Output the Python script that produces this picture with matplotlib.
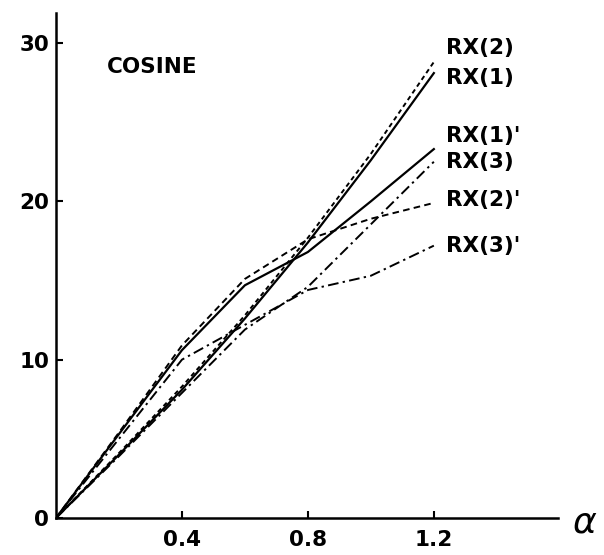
import numpy as np
import matplotlib
matplotlib.use("Agg")
import matplotlib.pyplot as plt

alpha = [0.0, 0.2, 0.4, 0.6, 0.8, 1.0, 1.2]

rx1 = [0.0, 4.0, 8.1, 12.6, 17.4, 22.6, 28.1]
rx2 = [0.0, 4.1, 8.3, 12.8, 17.7, 23.0, 28.8]
rx3 = [0.0, 3.9, 7.9, 11.9, 14.6, 18.55, 22.5]
rx1p = [0.0, 5.3, 10.6, 14.7, 16.8, 20.0, 23.3]
rx2p = [0.0, 5.4, 10.9, 15.1, 17.6, 18.9, 19.9]
rx3p = [0.0, 5.0, 10.0, 12.2, 14.4, 15.3, 17.2]

series_names = ["RX(2)", "RX(1)", "RX(1)'", "RX(3)", "RX(2)'", "RX(3)'"]
label_y = [29.7, 27.8, 24.1, 22.5, 20.1, 17.2]

x_ticks = [0.4, 0.8, 1.2]
x_tick_labels = ["0.4", "0.8", "1.2"]
y_ticks = [0, 10, 20, 30]

FONT = "DejaVu Sans"

fig = plt.figure(figsize=(6.04, 5.55), dpi=100)
ax = fig.add_axes([0.0927, 0.0667, 0.831, 0.91])

# line styles: solid for RX(1), short dashes for RX(2), dash-dot for RX(3)
short_dash = (0, (2.4, 1.8))
long_dash = (0, (3.4, 2.2))
dash_dot = (0, (5.5, 2.2, 1.2, 2.2))

ax.plot(alpha, rx2, color="black", lw=1.4, linestyle=short_dash)
ax.plot(alpha, rx1, color="black", lw=1.6, linestyle="-")
ax.plot(alpha, rx1p, color="black", lw=1.6, linestyle="-")
ax.plot(alpha, rx3, color="black", lw=1.4, linestyle=dash_dot)
ax.plot(alpha, rx2p, color="black", lw=1.4, linestyle=long_dash)
ax.plot(alpha, rx3p, color="black", lw=1.4, linestyle=dash_dot)

for name, y in zip(series_names, label_y):
    ax.text(1.238, y, name, fontsize=15.5, family=FONT, fontweight="bold",
            va="center", ha="left")

ax.text(0.162, 28.1, "COSINE", fontsize=15.5, family=FONT, fontweight="bold",
        va="baseline", ha="left")

ax.set_xlim(0, 1.594)
ax.set_ylim(0, 31.9)
ax.spines["top"].set_visible(False)
ax.spines["right"].set_visible(False)
ax.spines["left"].set_linewidth(1.8)
ax.spines["bottom"].set_linewidth(1.8)

ax.set_xticks(x_ticks)
ax.set_xticklabels(x_tick_labels)
ax.set_yticks(y_ticks)
ax.tick_params(direction="in", length=5, width=1.5, labelsize=15.5)
ax.tick_params(axis="x", pad=9)
ax.tick_params(axis="y", pad=5)
for lab in ax.get_xticklabels() + ax.get_yticklabels():
    lab.set_fontweight("bold")
    lab.set_family(FONT)

# axis name at the end of the x axis
ax.text(1.64, -0.3, r"$\alpha$", fontsize=26, va="center", ha="left",
        clip_on=False)

fig.savefig("out.png", dpi=100)
